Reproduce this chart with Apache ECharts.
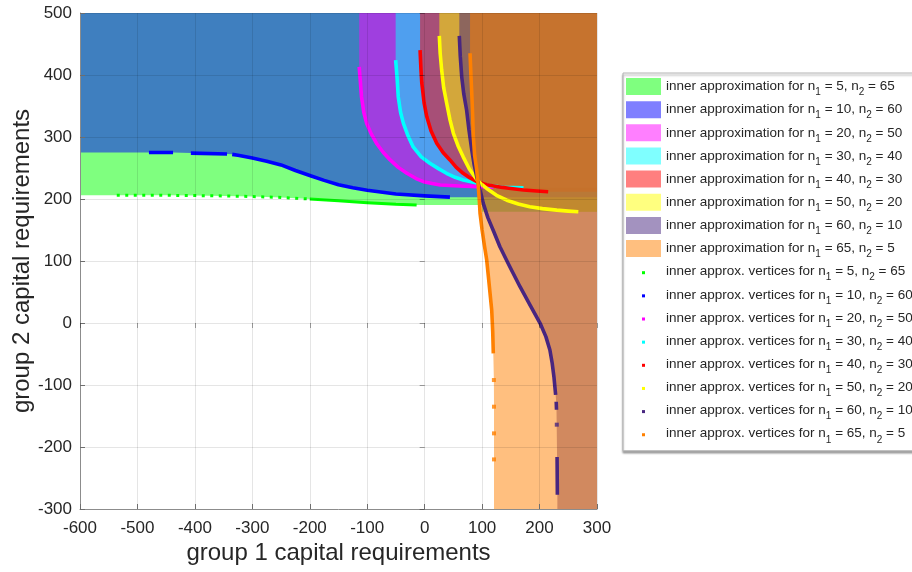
<!DOCTYPE html>
<html>
<head>
<meta charset="utf-8">
<script src="https://cdn.jsdelivr.net/npm/echarts@6/dist/echarts.min.js"></script>
<style>
  html, body { margin: 0; padding: 0; background: #ffffff; }
  #chart { width: 912px; height: 572px; }
</style>
</head>
<body>
<div id="chart"></div>
<script>
// Axis ranges
const X_MIN = -600, X_MAX = 300, Y_MIN = -300, Y_MAX = 500, TICK_STEP = 100;

// Group sizes for each configuration
const n1Values = [5, 10, 20, 30, 40, 50, 60, 65];
const n2Values = [65, 60, 50, 40, 30, 20, 10, 5];

// Gap marker between runs of vertices
const GAP = ['-', '-'];

// Inner approximation vertices (group 1, group 2 capital requirements).
// Sparse runs are drawn dotted, dense runs as a continuous trace.
const sparse5_65 = [[-536, 206], [-450, 206], [-400, 205.5], [-350, 205], [-300, 204], [-250, 202.5],
  [-200, 200]];
const verts5_65 = [[-200, 200], [-150, 197], [-100, 194], [-50, 191.5], [-14, 190.5]];
const verts10_60 = [[-480, 275], [-438, 275], GAP, [-407, 274], [-344, 272.5], GAP, [-335, 272],
  [-325, 270.5], [-300, 266], [-275, 261], [-250, 255], [-225, 246], [-200, 238], [-175, 230],
  [-150, 223], [-125, 218], [-100, 214], [-50, 208], [0, 205], [44, 203]];
const verts20_50 = [[-114, 413], [-112, 390], [-110, 365], [-106, 340], [-101, 322], [-93, 305],
  [-84, 290], [-72, 275], [-60, 263], [-46, 251], [-31, 241.5], [-15, 233], [-2, 228], [13, 225],
  [27, 222.6], [60, 221], [91, 220], [120, 219]];
const verts30_40 = [[-50.5, 424], [-48, 395], [-46, 365], [-42, 340], [-37, 322], [-29, 302],
  [-20, 284], [-6, 268], [9, 257.6], [24, 249], [38, 241.5], [53, 235], [67, 230.6], [91, 226],
  [110, 222], [136, 219], [172, 218]];
const verts40_30 = [[-8, 440], [-6.5, 410], [-5, 387], [-1, 355], [3.6, 333], [11, 310], [21, 290],
  [32, 275], [44, 263], [55, 251], [67, 241.5], [79, 234], [91, 228], [108, 223], [125, 220],
  [150, 217], [172, 214.5], [195, 213], [215, 211.8]];
const verts50_20 = [[25.5, 463], [27, 435], [29.6, 408], [33, 380], [38.4, 354], [44, 328], [50, 306],
  [58, 286], [67, 268], [78, 248], [91, 231], [100, 223], [108, 217], [125, 206], [143, 198],
  [163, 192], [183, 187.6], [205, 184.5], [230, 182], [250, 180.5], [267.5, 179.5]];
const verts60_10 = [[60.3, 463], [62, 430], [64.5, 397], [68, 370], [73, 343.5], [77, 312], [82, 279],
  [86, 256], [90.6, 236], [95, 218], [99.3, 203.7], [102, 193], [110, 170], [120, 148], [131, 123],
  [148, 91], [166, 58.5], [184, 28], [201, -0.5], [211, -22], [218, -43.5], [222, -65],
  [225, -86.6], [228, -116], GAP, [229, -127], [229.5, -140], GAP, [230.5, -216], [231, -277]];
const verts65_5 = [[79, 435], [80.5, 400], [82, 370.5], [83.5, 335], [84.7, 300.5], [87, 270],
  [90.6, 247], [93.4, 220], [95, 200], [96.4, 177], [100, 150], [104, 125], [108, 101.6],
  [112, 65], [116.7, 21], [118.5, -15], [119.5, -49]];

// Isolated vertices, drawn as single markers
const single60_10 = [[230, -164]];
const single65_5 = [[120.5, -92], [120.7, -135], [120.7, -178], [120.7, -220]];

// Extra outline points of the n1 = 5 region beyond its last vertex
const tail5_65 = [[100, 190.5], [100, 179.5]];

const vertexSets = [verts5_65, verts10_60, verts20_50, verts30_40, verts40_30, verts50_20, verts60_10, verts65_5];
const sparseSets = [sparse5_65, [], [], [], [], [], [], []];
const singleSets = [[], [], [], [], [], [], single60_10, single65_5];
const fillTails = [tail5_65, [], [], [], [], [], [], single65_5];
// Which plot edge each region's outline starts from and runs out to
const startEdges = ['left', 'left', 'top', 'top', 'top', 'top', 'top', 'top'];
const endEdges = ['right', 'right', 'right', 'right', 'right', 'right', 'bottom', 'bottom'];

const baseColors = ['#00ff00', '#0000ff', '#ff00ff', '#00ffff', '#ff0000', '#ffff00', '#482680', '#ff8000'];
const FILL_ALPHA = 0.5;

function rgba(hex, a) {
  const v = parseInt(hex.slice(1), 16);
  return 'rgba(' + ((v >> 16) & 255) + ',' + ((v >> 8) & 255) + ',' + (v & 255) + ',' + a + ')';
}

const isPoint = p => typeof p[0] === 'number' && typeof p[1] === 'number';

// Closed region above/right of a vertex curve, bounded by the plot edges
function regionOutline(verts, start, end, tail) {
  const pts = verts.concat(tail).filter(isPoint);
  if (start === 'left') pts.unshift([X_MIN, pts[0][1]]);
  else pts.unshift([pts[0][0], Y_MAX]);
  const last = pts[pts.length - 1];
  if (end === 'right') {
    pts.push([X_MAX, last[1]]);
  } else {
    pts.push([last[0], Y_MIN]);
    pts.push([X_MAX, Y_MIN]);
  }
  pts.push([X_MAX, Y_MAX]);
  if (start === 'left') pts.push([X_MIN, Y_MAX]);
  return pts;
}

const pairText = i => 'n1 = ' + n1Values[i] + ', n2 = ' + n2Values[i];
const fillNames = n1Values.map((_, i) => 'inner approximation for ' + pairText(i));
const vertexNames = n1Values.map((_, i) => 'inner approx. vertices for ' + pairText(i));

const fillSeries = vertexSets.map((verts, i) => {
  const outline = regionOutline(sparseSets[i].concat(verts), startEdges[i], endEdges[i], fillTails[i]);
  return {
    type: 'custom',
    name: fillNames[i],
    coordinateSystem: 'cartesian2d',
    silent: true,
    z: 2 + i * 0.01,
    itemStyle: { color: rgba(baseColors[i], FILL_ALPHA) },
    data: [[X_MIN, Y_MIN]],
    renderItem: (params, api) => ({
      type: 'polygon',
      shape: { points: outline.map(p => api.coord(p)) },
      style: { fill: rgba(baseColors[i], FILL_ALPHA) }
    })
  };
});

const vertexSeries = [];
vertexSets.forEach((verts, i) => {
  const width = i === 0 ? 3 : 3.6;
  vertexSeries.push({
    type: 'line', name: vertexNames[i], data: verts, showSymbol: false, silent: true, z: 5,
    connectNulls: false,
    itemStyle: { color: baseColors[i] },
    lineStyle: { color: baseColors[i], width: width, cap: 'butt', join: 'round' }
  });
  if (sparseSets[i].length) {
    vertexSeries.push({
      type: 'line', name: vertexNames[i], data: sparseSets[i], showSymbol: false, silent: true, z: 5,
      itemStyle: { color: baseColors[i] },
      lineStyle: { color: baseColors[i], width: width, type: [3, 5.5], cap: 'butt' }
    });
  }
  if (singleSets[i].length) {
    vertexSeries.push({
      type: 'scatter', name: vertexNames[i], data: singleSets[i], symbol: 'rect', symbolSize: 4,
      silent: true, z: 5, itemStyle: { color: baseColors[i] }
    });
  }
});

function dotIcon(color) {
  const svg = '<svg xmlns="http://www.w3.org/2000/svg" width="35" height="17">' +
    '<rect x="16" y="8" width="3" height="3" fill="' + color + '"/></svg>';
  return 'image://data:image/svg+xml;charset=utf-8,' + encodeURIComponent(svg);
}

const legendData = fillNames.map((name, i) => ({
  name: name, icon: 'rect', itemStyle: { color: rgba(baseColors[i], FILL_ALPHA), borderWidth: 0 }
})).concat(vertexNames.map((name, i) => ({ name: name, icon: dotIcon(baseColors[i]) })));

const FONT = '"Liberation Sans", Arial, Helvetica, sans-serif';
const TEXT_COLOR = '#262626';

const chart = echarts.init(document.getElementById('chart'), null, { renderer: 'canvas' });
chart.setOption({
  animation: false,
  backgroundColor: '#ffffff',
  textStyle: { fontFamily: FONT },
  grid: { left: 80, right: 315, top: 13, bottom: 63, containLabel: false, outerBoundsMode: 'none' },
  legend: {
    orient: 'vertical',
    left: 623,
    top: 73,
    padding: [5, 30, 6, 3],
    itemWidth: 35,
    itemHeight: 17,
    itemGap: 3.65,
    backgroundColor: '#ffffff',
    borderColor: '#b4b4b4',
    borderWidth: 1,
    shadowColor: 'rgba(0,0,0,0.35)',
    shadowBlur: 2,
    shadowOffsetX: 0,
    shadowOffsetY: 2,
    selectedMode: false,
    data: legendData,
    formatter: name => name.replace(/n(\d) = /g, 'n{s|$1} = '),
    textStyle: {
      fontFamily: FONT,
      fontSize: 13.5,
      color: TEXT_COLOR,
      rich: { s: { fontFamily: FONT, fontSize: 10, color: TEXT_COLOR, padding: [12, 0, 0, 0] } }
    }
  },
  xAxis: [{
    type: 'value', min: X_MIN, max: X_MAX, interval: TICK_STEP, position: 'bottom', z: 10,
    name: 'group 1 capital requirements', nameLocation: 'middle', nameGap: 32, nameMoveOverlap: false,
    nameTextStyle: { fontFamily: FONT, fontSize: 24, color: TEXT_COLOR },
    axisLine: { show: true, onZero: false, lineStyle: { color: '#8c8c8c', width: 1 } },
    axisTick: { show: true, inside: true, length: 5, lineStyle: { color: '#6e6e6e' } },
    axisLabel: { fontFamily: FONT, fontSize: 17, color: TEXT_COLOR, margin: 11 },
    splitLine: { show: true, lineStyle: { color: 'rgba(0,0,0,0.1)', width: 1 } }
  }, {
    type: 'value', min: X_MIN, max: X_MAX, interval: TICK_STEP, position: 'top', z: 10,
    axisLine: { show: false },
    axisTick: { show: true, inside: true, length: 5, lineStyle: { color: 'rgba(0,0,0,0.35)' } },
    axisLabel: { show: false },
    splitLine: { show: false }
  }],
  yAxis: [{
    type: 'value', min: Y_MIN, max: Y_MAX, interval: TICK_STEP, position: 'left', z: 10,
    name: 'group 2 capital requirements', nameLocation: 'middle', nameGap: 46, nameMoveOverlap: false,
    nameTextStyle: { fontFamily: FONT, fontSize: 24, color: TEXT_COLOR },
    axisLine: { show: true, onZero: false, lineStyle: { color: '#8c8c8c', width: 1 } },
    axisTick: { show: true, inside: true, length: 5, lineStyle: { color: '#6e6e6e' } },
    axisLabel: { fontFamily: FONT, fontSize: 17, color: TEXT_COLOR, margin: 8 },
    splitLine: { show: true, lineStyle: { color: 'rgba(0,0,0,0.1)', width: 1 } }
  }, {
    type: 'value', min: Y_MIN, max: Y_MAX, interval: TICK_STEP, position: 'right', z: 10,
    axisLine: { show: false },
    axisTick: { show: true, inside: true, length: 5, lineStyle: { color: 'rgba(0,0,0,0.35)' } },
    axisLabel: { show: false },
    splitLine: { show: false }
  }],
  series: fillSeries.concat(vertexSeries)
});
</script>
</body>
</html>
